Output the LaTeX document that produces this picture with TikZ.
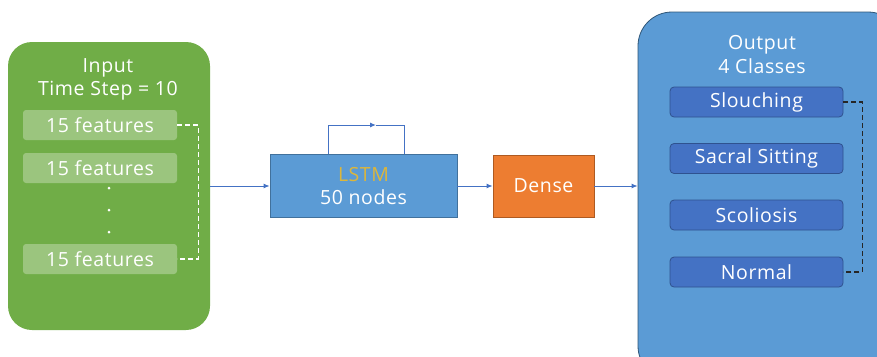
\documentclass[tikz,border=0pt]{standalone}
\usepackage{fontspec}
\setmainfont[LetterSpace=3]{Open Sans}
\usetikzlibrary{shapes,arrows,arrows.meta,positioning}

\definecolor{boxgreen}{HTML}{70AD47}
\definecolor{lstmblue}{HTML}{5B9BD5}
\definecolor{lstmedge}{HTML}{41719C}
\definecolor{outedge}{HTML}{2E5577}
\definecolor{classblue}{HTML}{4472C4}
\definecolor{classedge}{HTML}{2F528F}
\definecolor{denseorange}{HTML}{ED7D31}
\definecolor{denseedge}{HTML}{AE5A21}
\definecolor{lstmgold}{HTML}{DDB63A}
\definecolor{flowblue}{HTML}{4472C4}

\begin{document}
\begin{tikzpicture}[x=1pt,y=-1pt,
  font=\fontsize{19.5}{23}\selectfont,
  feat/.style={rectangle,rounded corners=3pt,fill=white,fill opacity=0.3,text opacity=1,
    text=white,minimum width=154pt,minimum height=30pt,inner sep=0pt},
  cls/.style={rectangle,rounded corners=4pt,draw=classedge,fill=classblue,text=white,
    minimum width=173pt,minimum height=30pt,inner sep=0pt,line width=0.8pt},
  layer/.style={rectangle,text=white,inner sep=0pt,align=center,line width=0.8pt},
  title/.style={text=white,inner sep=0pt,anchor=base},
  dot/.style={circle,fill=white,inner sep=0pt,minimum size=3pt},
  flow/.style={flowblue,line width=1pt},
  tip/.style={-{Latex[length=6pt,width=5pt]}},
  seq/.style={line width=1.3pt,dash pattern=on 5pt off 3pt}]

\useasboundingbox (0,0) rectangle (877,356);
\clip (0,0) rectangle (877,356);

% input side
\node[rectangle,rounded corners=24pt,fill=boxgreen,minimum width=202pt,minimum height=288pt] (inbox) at (109,186) {};
\node[title] (intitle) at (108,72) {Input};
\node[title] (insteps) at (108,95) {Time Step = 10};

\node[feat] (feat1) at (100,125) {15 features};
\node[feat] (feat2) at (100,168) {15 features};
\node[feat] (feat3) at (100,259) {15 features};
\node[dot] (dot1) at (109,188) {};
\node[dot] (dot2) at (109,210) {};
\node[dot] (dot3) at (109,232) {};
\draw[white,seq] (feat1.east) -- ++(21,0) |- (feat3.east);

% layers
\node[layer,draw=lstmedge,fill=lstmblue,minimum width=187pt,minimum height=63pt] (lstm) at (363.5,186)
  {{\color{lstmgold}LSTM}\\50 nodes};
\node[layer,draw=denseedge,fill=denseorange,minimum width=101pt,minimum height=62pt] (dense) at (543.5,186) {Dense};

\coordinate (loopa) at (328,125);
\coordinate (loopm) at (376,125);
\coordinate (loopb) at (404,125);
\draw[flow,tip] (lstm.north -| loopa) -- (loopa) -- (loopm);
\draw[flow] (loopm) -- (loopb) -- (lstm.north -| loopb);

% output side
\node[rectangle,rounded corners=34pt,draw=outedge,fill=lstmblue,line width=0.8pt,
  minimum width=264pt,minimum height=368pt] (outbox) at (770,196) {};
\node[title] (outtitle) at (762,49) {Output};
\node[title] (outcount) at (762,73) {4 Classes};

\node[cls] (cls1) at (756.5,102) {Slouching};
\node[cls] (cls2) at (756.5,158.5) {Sacral Sitting};
\node[cls] (cls3) at (756.5,215) {Scoliosis};
\node[cls] (cls4) at (756.5,272) {Normal};
\draw[black!85,seq] (cls1.east) -- ++(19,0) |- (cls4.east);

% connections
\draw[flow,tip] (inbox.east) -- (lstm.west);
\draw[flow,tip] (lstm.east) -- (dense.west);
\draw[flow,tip] (dense.east) -- (outbox.west |- dense.east);

\end{tikzpicture}
\end{document}
